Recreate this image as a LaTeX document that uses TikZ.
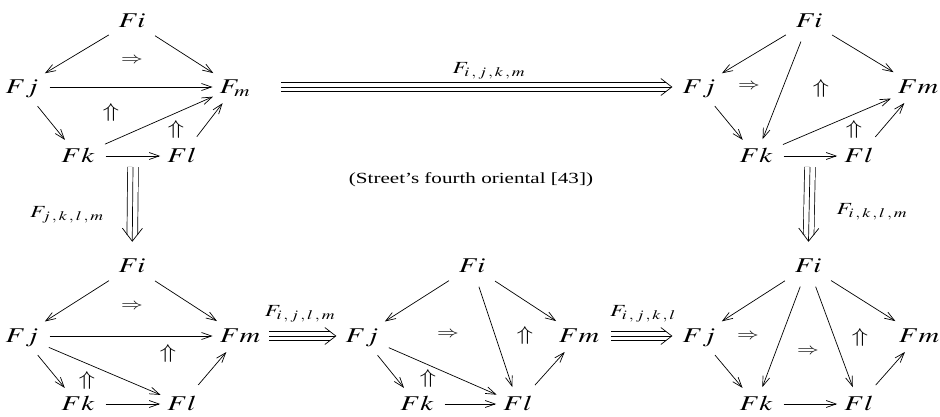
\documentclass[tikz,border=0pt]{standalone}
\usepackage{mathptmx}
\usepackage[no-math]{fontspec}
\setmainfont{Liberation Serif}
\usepackage{graphicx}
\usetikzlibrary{arrows.meta}
\newcommand{\hs}[1]{\scalebox{1.36}[1]{#1}}
\newcommand{\ob}[1]{\hs{$#1$}}
\newcommand{\sub}[1]{\mbox{\fontsize{13}{15}\selectfont$#1$}}
\tikzset{
  obj/.style={inner sep=2pt, text height=16pt, text depth=4pt, anchor=base,
    font=\fontsize{21}{25}\selectfont},
  cellr/.style={inner sep=0pt, anchor=center, font=\fontsize{16}{19}\selectfont},
  cellu/.style={inner sep=0pt, anchor=center, font=\fontsize{20}{23}\selectfont},
  lab/.style={inner sep=0pt, anchor=center, font=\fontsize{17}{20}\selectfont},
  note/.style={inner sep=0pt, anchor=center, font=\fontsize{15.5}{18}\selectfont},
  ar/.style={-{Straight Barb[length=10pt,width=7pt]}, line width=0.7pt,
    shorten <=9pt, shorten >=5pt},
  triH/.style={double distance=8.5pt, line width=0.7pt},
  triV/.style={double distance=10pt, line width=0.7pt},
  headH/.style={line width=0.7pt, -{Straight Barb[length=11pt,width=17pt]}},
  headV/.style={line width=0.7pt, -{Straight Barb[length=13pt,width=20pt]}},
}
\begin{document}
\begin{tikzpicture}[x=1pt,y=-1pt]
\useasboundingbox (0,0) rectangle (940,416);
% ---------- diagram 1 (top left)
\node[obj] (a-i) at (132,27) {\ob{Fi}};
\node[obj] (a-j) at (22,93) {\ob{Fj}};
\node[obj] (a-m) at (235,93) {\ob{F_m}};
\node[obj] (a-k) at (78,162) {\ob{Fk}};
\node[obj] (a-l) at (182,162) {\ob{Fl}};
\node[cellr] (a-c1) at (132,61) {\ob{\Rightarrow}};
\node[cellu] (a-c2) at (111,112) {\ob{\Uparrow}};
\node[cellu] (a-c3) at (176,129) {\ob{\Uparrow}};
\draw[ar] (a-i) -- (a-j);
\draw[ar] (a-i) -- (a-m);
\draw[ar] (a-j) -- (a-m);
\draw[ar] (a-j) -- (a-k);
\draw[ar] (a-k) -- (a-m);
\draw[ar] (a-k) -- (a-l);
\draw[ar] (a-l) -- (a-m);
% ---------- diagram 2 (top right)
\node[obj] (b-i) at (809,27) {\ob{Fi}};
\node[obj] (b-j) at (699,93) {\ob{Fj}};
\node[obj] (b-m) at (918,93) {\ob{Fm}};
\node[obj] (b-k) at (756,162) {\ob{Fk}};
\node[obj] (b-l) at (859,162) {\ob{Fl}};
\node[cellr] (b-c1) at (749,87) {\ob{\Rightarrow}};
\node[cellu] (b-c2) at (821,88) {\ob{\Uparrow}};
\node[cellu] (b-c3) at (854,129) {\ob{\Uparrow}};
\draw[ar] (b-i) -- (b-j);
\draw[ar] (b-i) -- (b-m);
\draw[ar] (b-i) -- (b-k);
\draw[ar] (b-j) -- (b-k);
\draw[ar] (b-k) -- (b-m);
\draw[ar] (b-k) -- (b-l);
\draw[ar] (b-l) -- (b-m);
% ---------- diagram 3 (bottom left)
\node[obj] (c-i) at (132,272) {\ob{Fi}};
\node[obj] (c-j) at (22,342) {\ob{Fj}};
\node[obj] (c-m) at (240,342) {\ob{Fm}};
\node[obj] (c-k) at (78,410) {\ob{Fk}};
\node[obj] (c-l) at (182,410) {\ob{Fl}};
\node[cellr] (c-c1) at (132,307) {\ob{\Rightarrow}};
\node[cellu] (c-c2) at (168,353) {\ob{\Uparrow}};
\node[cellu] (c-c3) at (87,380) {\ob{\Uparrow}};
\draw[ar] (c-i) -- (c-j);
\draw[ar] (c-i) -- (c-m);
\draw[ar] (c-j) -- (c-m);
\draw[ar] (c-j) -- (c-k);
\draw[ar] (c-j) -- (c-l);
\draw[ar] (c-k) -- (c-l);
\draw[ar] (c-l) -- (c-m);
% ---------- diagram 4 (bottom middle)
\node[obj] (d-i) at (472,272) {\ob{Fi}};
\node[obj] (d-j) at (362,342) {\ob{Fj}};
\node[obj] (d-m) at (579,342) {\ob{Fm}};
\node[obj] (d-k) at (417,410) {\ob{Fk}};
\node[obj] (d-l) at (518,410) {\ob{Fl}};
\node[cellr] (d-c1) at (448,335) {\ob{\Rightarrow}};
\node[cellu] (d-c2) at (525,335) {\ob{\Uparrow}};
\node[cellu] (d-c3) at (428,378) {\ob{\Uparrow}};
\draw[ar] (d-i) -- (d-j);
\draw[ar] (d-i) -- (d-l);
\draw[ar] (d-i) -- (d-m);
\draw[ar] (d-j) -- (d-k);
\draw[ar] (d-j) -- (d-l);
\draw[ar] (d-k) -- (d-l);
\draw[ar] (d-l) -- (d-m);
% ---------- diagram 5 (bottom right)
\node[obj] (e-i) at (808,272) {\ob{Fi}};
\node[obj] (e-j) at (699,342) {\ob{Fj}};
\node[obj] (e-m) at (919,342) {\ob{Fm}};
\node[obj] (e-k) at (756,410) {\ob{Fk}};
\node[obj] (e-l) at (859,410) {\ob{Fl}};
\node[cellr] (e-c1) at (748,337) {\ob{\Rightarrow}};
\node[cellr] (e-c2) at (808,352) {\ob{\Rightarrow}};
\node[cellu] (e-c3) at (860,337) {\ob{\Uparrow}};
\draw[ar] (e-i) -- (e-j);
\draw[ar] (e-i) -- (e-k);
\draw[ar] (e-i) -- (e-l);
\draw[ar] (e-i) -- (e-m);
\draw[ar] (e-j) -- (e-k);
\draw[ar] (e-k) -- (e-l);
\draw[ar] (e-l) -- (e-m);
% ---------- triple arrows
\coordinate (t1) at (133,167);
\coordinate (t2) at (810,167);
\draw[triH, shorten <=29pt, shorten >=14pt] (a-m) -- (b-j);
\draw[headH, shorten <=29pt, shorten >=8pt] (a-m) -- (b-j);
\draw[triV, shorten >=19pt] (t1) -- (c-i);
\draw[headV, shorten >=12pt] (t1) -- (c-i);
\draw[triV, shorten >=19pt] (t2) -- (e-i);
\draw[headV, shorten >=12pt] (t2) -- (e-i);
\draw[triH, shorten <=7pt, shorten >=13pt] (c-m) -- (d-j);
\draw[headH, shorten <=7pt, shorten >=7pt] (c-m) -- (d-j);
\draw[triH, shorten <=10pt, shorten >=14pt] (d-m) -- (e-j);
\draw[headH, shorten <=10pt, shorten >=8pt] (d-m) -- (e-j);
% ---------- labels
\node[lab] (l1) at (489,71) {\ob{F_{\sub{i\mkern2mu,j\mkern2mu,k\mkern2mu,m}}}};
\node[lab] (l2) at (67,215) {\ob{F_{\sub{j\mkern2mu,k\mkern2mu,l\mkern2mu,m}}}};
\node[lab] (l3) at (872,212) {\ob{F_{\sub{i\mkern2mu,k\mkern2mu,l\mkern2mu,m}}}};
\node[lab] (l4) at (300,314) {\ob{F_{\sub{i\mkern2mu,j\mkern2mu,l\mkern2mu,m}}}};
\node[lab] (l5) at (643,314) {\ob{F_{\sub{i\mkern2mu,j\mkern2mu,k\mkern2mu,l}}}};
\node[note] (n1) at (471,180) {\hs{(Street’s fourth oriental [43])}};
\end{tikzpicture}
\end{document}
